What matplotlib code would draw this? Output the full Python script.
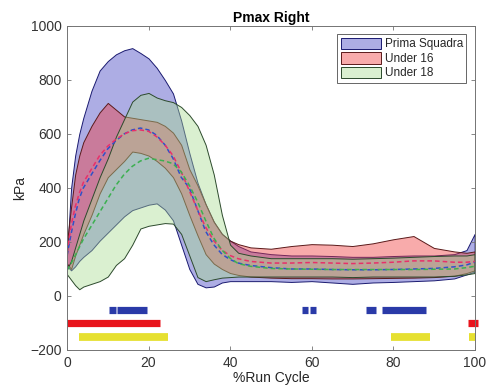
import matplotlib
matplotlib.use("Agg")
import matplotlib.pyplot as plt
from matplotlib.colors import to_rgba
from matplotlib.patches import Patch

plt.rcParams['font.family'] = ['Liberation Sans', 'DejaVu Sans']

# % run cycle sample points
cycle = [0, 1, 2, 3, 4, 6, 8, 10, 12, 14, 16, 18, 20, 22, 24, 26, 28, 30, 32, 34, 36, 38,
         40, 42, 45, 50, 55, 60, 65, 70, 75, 80, 85, 90, 95, 98, 100]

# Prima Squadra
ps_hi = [150, 400, 520, 600, 660, 760, 835, 870, 895, 910, 918, 900, 880, 845, 800, 750, 650,
         530, 420, 340, 275, 230, 205, 185, 165, 155, 150, 150, 148, 145, 145, 148, 150, 150,
         155, 170, 230]
ps_lo = [110, 95, 110, 130, 145, 170, 205, 235, 265, 295, 318, 328, 338, 343, 320, 280, 190,
         100, 45, 32, 35, 50, 55, 55, 55, 55, 52, 55, 50, 45, 50, 52, 55, 58, 65, 80, 90]
ps_mean = [150, 230, 300, 360, 400, 450, 500, 545, 575, 600, 615, 622, 615, 595, 560, 510, 440,
           400, 320, 240, 190, 155, 135, 122, 113, 105, 100, 100, 98, 97, 97, 98, 100, 102,
           108, 115, 125]

# Under 16
u16_hi = [200, 330, 450, 520, 570, 630, 680, 715, 690, 665, 660, 655, 650, 645, 630, 605, 560,
          470, 410, 340, 275, 230, 205, 192, 180, 175, 185, 192, 190, 185, 195, 210, 222, 178,
          165, 160, 165]
u16_lo = [120, 100, 150, 190, 230, 300, 380, 440, 470, 500, 535, 530, 520, 500, 475, 440, 380,
          300, 225, 155, 120, 100, 85, 78, 72, 68, 66, 66, 65, 65, 66, 67, 68, 70, 75, 85, 95]
u16_mean = [160, 260, 330, 380, 420, 470, 520, 555, 580, 600, 612, 615, 610, 590, 560, 520, 460,
            390, 320, 255, 205, 170, 150, 138, 128, 122, 122, 124, 122, 120, 122, 125, 130, 130,
            125, 125, 128]

# Under 18
u18_hi = [100, 130, 180, 230, 280, 360, 440, 510, 590, 655, 720, 745, 752, 735, 725, 718, 700,
          670, 630, 560, 450, 300, 190, 160, 150, 140, 140, 140, 140, 138, 140, 142, 145, 148,
          150, 150, 155]
u18_lo = [80, 60, 40, 25, 35, 45, 55, 72, 115, 140, 190, 250, 260, 265, 270, 268, 230, 150,
          70, 55, 62, 68, 70, 72, 72, 72, 72, 72, 72, 70, 72, 72, 72, 72, 75, 80, 85]
u18_mean = [95, 120, 150, 180, 210, 260, 310, 360, 410, 450, 480, 500, 510, 505, 500, 490, 460,
            410, 350, 280, 215, 170, 140, 120, 110, 102, 100, 99, 98, 98, 98, 98, 98, 99, 100,
            105, 110]

# significance bars: (start, end) in % cycle
sig_ps = [(10.2, 11.9), (12.2, 19.7), (57.6, 59.0), (59.5, 61.0), (73.4, 75.9), (77.3, 88.0)]
sig_u16 = [(0.0, 22.9), (98.3, 100.8)]
sig_u18 = [(2.9, 24.8), (79.5, 89.0), (98.5, 100.0)]

fig = plt.figure(figsize=(4.87, 3.9), dpi=100)
ax = fig.add_axes([0.1376, 0.1026, 0.837, 0.8308])

groups = [
    ("Prima Squadra", ps_lo, ps_hi, ps_mean, "#3c3cc0", "#1a1a70", "#3050c8"),
    ("Under 16", u16_lo, u16_hi, u16_mean, "#f03838", "#5a1a1a", "#e8306a"),
    ("Under 18", u18_lo, u18_hi, u18_mean, "#a8dc90", "#2c4a2c", "#3cb050"),
]

handles = []
for name, lo, hi, mean, fc, ec, lc in groups:
    ax.fill_between(cycle, lo, hi, facecolor=to_rgba(fc, 0.42), edgecolor=ec, linewidth=0.7)
    handles.append(Patch(facecolor=to_rgba(fc, 0.42), edgecolor=ec, linewidth=0.7, label=name))

for name, lo, hi, mean, fc, ec, lc in groups:
    ax.plot(cycle, mean, linestyle='--', color=lc, linewidth=1.1, dashes=(3, 2))

for seg in sig_ps:
    ax.plot(seg, [-52, -52], color="#2a3aa8", linewidth=5.2, solid_capstyle='butt', clip_on=False)
for seg in sig_u16:
    ax.plot(seg, [-100, -100], color="#e8141c", linewidth=5.2, solid_capstyle='butt', clip_on=False)
for seg in sig_u18:
    ax.plot(seg, [-152, -152], color="#e6e030", linewidth=5.6, solid_capstyle='butt', clip_on=False)

ax.set_xlim(0, 100)
ax.set_ylim(-200, 1000)
ax.set_xticks([0, 20, 40, 60, 80, 100])
ax.set_yticks([-200, 0, 200, 400, 600, 800, 1000])
ax.tick_params(direction='in', top=True, right=True, labelsize=10, length=3, width=0.6,
               color='0.45', labelcolor='0.2', pad=4)
for s in ax.spines.values():
    s.set_linewidth(0.7)
    s.set_color('0.45')

ax.set_title("Pmax Right", fontsize=10, fontweight='bold', pad=3)
ax.set_xlabel("%Run Cycle", fontsize=10, labelpad=1, color='0.15')
ax.set_ylabel("kPa", fontsize=10, labelpad=2, color='0.15')

leg = ax.legend(handles=handles, loc='upper right', fontsize=8.5, fancybox=False,
                framealpha=1, edgecolor='0.3', handlelength=3.4, handleheight=1.1,
                borderpad=0.3, labelspacing=0.15, handletextpad=0.3, borderaxespad=0.7)
leg.get_frame().set_linewidth(0.6)
for t in leg.get_texts():
    t.set_color('0.15')

fig.savefig("out.png", dpi=100)
